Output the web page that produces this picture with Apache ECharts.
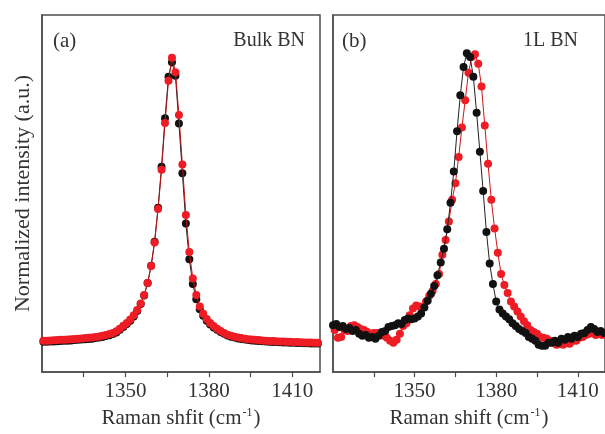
<!DOCTYPE html>
<html>
<head>
<meta charset="utf-8">
<script src="https://cdn.jsdelivr.net/npm/echarts@6/dist/echarts.min.js"></script>
<style>html,body{margin:0;padding:0;background:#fff;}#c{width:605px;height:434px;}</style>
</head>
<body>
<div id="c"></div>
<script>
// ---- data ----
const tickLabels = [1350, 1380, 1410];

// panel (a) Bulk BN, shared Raman shift grid
const xBulk = [1320.5,1321.75,1323,1324.25,1325.5,1326.75,1328,1329.25,1330.5,1331.75,
1333,1334.25,1335.5,1336.75,1338,1339.25,1340.5,1341.75,1343,1344.25,
1345.5,1346.75,1348,1349.25,1350.5,1351.75,1353,1354.25,1355.5,1356.75,
1358,1359.25,1360.5,1361.75,1363,1364.25,1365.5,1366.75,1368,1369.25,
1370.5,1371.75,1373,1374.25,1375.5,1376.75,1378,1379.25,1380.5,1381.75,
1383,1384.25,1385.5,1386.75,1388,1389.25,1390.5,1391.75,1393,1394.25,
1395.5,1396.75,1398,1399.25,1400.5,1401.75,1403,1404.25,1405.5,1406.75,
1408,1409.25,1410.5,1411.75,1413,1414.25,1415.5,1416.75,1418,1419.25];

const bulkRed = [0.0095,0.010,0.011,0.0115,0.012,0.013,0.0135,0.014,0.015,0.016,
0.017,0.018,0.019,0.020,0.021,0.023,0.025,0.027,0.030,0.033,
0.037,0.043,0.052,0.062,0.072,0.084,0.099,0.117,0.140,0.170,
0.212,0.271,0.354,0.471,0.608,0.772,0.920,1.000,0.950,0.800,
0.627,0.450,0.320,0.228,0.170,0.130,0.104,0.086,0.072,0.061,
0.052,0.044,0.037,0.031,0.027,0.024,0.021,0.019,0.017,0.015,
0.014,0.013,0.012,0.011,0.010,0.009,0.0085,0.008,0.0075,0.007,
0.0065,0.006,0.0055,0.005,0.0045,0.004,0.004,0.0035,0.003,0.003];

const bulkBlack = [0.006,0.0065,0.007,0.0075,0.008,0.009,0.0095,0.010,0.011,0.012,
0.013,0.014,0.015,0.016,0.017,0.019,0.021,0.023,0.026,0.029,
0.033,0.039,0.048,0.058,0.068,0.080,0.095,0.114,0.138,0.168,
0.212,0.272,0.356,0.475,0.619,0.789,0.934,0.985,0.937,0.770,
0.596,0.420,0.295,0.208,0.155,0.120,0.097,0.080,0.067,0.056,
0.048,0.040,0.034,0.028,0.024,0.021,0.018,0.016,0.014,0.012,
0.011,0.010,0.009,0.008,0.007,0.006,0.0055,0.005,0.0045,0.004,
0.0035,0.003,0.0025,0.002,0.0015,0.001,0.001,0.0005,0.0,0.0];

// panel (b) 1L BN
const xMonoRed = [1320.6,1321.8,1323.0,1324.2,1325.4,1326.6,1327.8,1329.0,1330.2,1331.4,
1332.6,1333.8,1335.0,1336.2,1337.4,1338.6,1339.8,1341.0,1342.2,1343.4,
1344.6,1345.8,1347.0,1348.2,1349.4,1350.6,1351.8,1353.0,1354.2,1355.4,
1356.6,1357.8,1359.0,1360.2,1361.4,1362.6,1363.8,1365.0,1366.2,1367.4,
1368.6,1369.8,1371.0,1372.2,1373.4,1374.6,1375.8,1377.0,1378.2,1379.4,
1380.6,1381.8,1383.0,1384.2,1385.4,1386.6,1387.8,1389.0,1390.2,1391.4,
1392.6,1393.8,1395.0,1396.2,1397.4,1398.6,1399.8,1401.0,1402.2,1403.4,
1404.6,1405.8,1407.0,1408.2,1409.4,1410.6,1411.8,1413.0,1414.2,1415.4,
1416.6,1417.8,1419.0];

const monoRed = [0.047,0.020,0.023,0.047,0.044,0.061,0.064,0.058,0.051,0.047,
0.040,0.034,0.037,0.037,0.034,0.027,0.020,0.010,0.003,0.013,
0.034,0.061,0.071,0.099,0.123,0.133,0.130,0.126,0.147,0.167,
0.184,0.208,0.243,0.311,0.362,0.427,0.503,0.561,0.653,0.756,
0.852,0.948,1.003,1.013,0.979,0.900,0.763,0.629,0.503,0.403,
0.318,0.243,0.205,0.177,0.147,0.130,0.112,0.095,0.078,0.064,
0.047,0.040,0.034,0.023,0.020,0.017,0.010,0.003,-0.004,-0.001,
-0.004,0.003,-0.001,0.010,0.010,0.020,0.023,0.030,0.034,0.037,
0.030,0.034,0.030];

const xMonoBlack = [1320.0,1321.2,1322.4,1323.6,1324.8,1326.0,1327.2,1328.4,1329.6,1330.8,
1332.0,1333.2,1334.4,1335.6,1336.8,1338.0,1339.2,1340.4,1341.6,1342.8,
1344.0,1345.2,1346.4,1347.6,1348.8,1350.0,1351.2,1352.4,1353.6,1354.8,
1356.0,1357.2,1358.4,1359.6,1360.8,1362.0,1363.2,1364.4,1365.6,1366.8,
1368.0,1369.2,1370.4,1371.6,1372.8,1374.0,1375.2,1376.4,1377.6,1378.8,
1380.0,1381.2,1382.4,1383.6,1384.8,1386.0,1387.2,1388.4,1389.6,1390.8,
1392.0,1393.2,1394.4,1395.6,1396.8,1398.0,1399.2,1400.4,1401.6,1402.8,
1404.0,1405.2,1406.4,1407.6,1408.8,1410.0,1411.2,1412.4,1413.6,1414.8,
1416.0,1417.2,1418.4,1419.6];

const monoBlack = [0.064,0.068,0.058,0.061,0.051,0.054,0.044,0.047,0.034,0.027,
0.030,0.020,0.023,0.017,0.027,0.040,0.044,0.058,0.061,0.064,
0.071,0.068,0.082,0.088,0.085,0.088,0.095,0.105,0.126,0.150,
0.174,0.201,0.239,0.284,0.332,0.400,0.493,0.602,0.743,0.869,
0.968,1.016,1.003,0.934,0.808,0.671,0.534,0.390,0.280,0.208,
0.147,0.119,0.105,0.095,0.085,0.071,0.061,0.051,0.044,0.037,
0.023,0.017,0.010,-0.004,-0.008,-0.008,0.003,0.003,0.010,0.003,
0.017,0.013,0.023,0.017,0.027,0.023,0.034,0.037,0.047,0.058,
0.051,0.040,0.044,0.037];

const xTitleMain = ['Raman shfit (cm', 'Raman shift (cm'];
const xTitleSup = '-1';
const yTitle = 'Normalized intensity (a.u.)';
const panelTags = ['(a)', '(b)'];
const sampleNames = ['Bulk BN', '1L BN'];

// ---- chart ----
function zip(xs, ys) { return xs.map((x, i) => [x, ys[i]]); }
const FONT = '"Liberation Serif", "DejaVu Serif", serif';
const FRAME = '#4d4d4d';
const TEXT = '#333';
const RED = '#ee1c24';
const BLACK = '#111';

function xAxisFor(i) {
  return {
    type: 'value', gridIndex: i, min: 1320, max: 1420, interval: 15,
    axisLine: { show: true, onZero: false, lineStyle: { color: FRAME, width: 1.5 } },
    axisTick: { show: true, inside: false, length: 5, lineStyle: { color: FRAME, width: 1.2 } },
    axisLabel: {
      margin: 9, fontFamily: FONT, fontSize: 21, color: TEXT,
      showMinLabel: false, showMaxLabel: false,
      formatter: v => tickLabels.includes(Math.round(v)) ? String(Math.round(v)) : ''
    },
    splitLine: { show: false },
    name: '{a|' + xTitleMain[i] + '}{s|' + xTitleSup + '}{a|)}',
    nameLocation: 'middle', nameGap: 27,
    nameTextStyle: {
      fontFamily: FONT, fontSize: 21, color: TEXT,
      rich: {
        a: { fontFamily: FONT, fontSize: 21, color: TEXT, lineHeight: 22, verticalAlign: 'bottom' },
        s: { fontFamily: FONT, fontSize: 12, color: TEXT, lineHeight: 22, verticalAlign: 'top', padding: [0, 1, 0, 1] }
      }
    }
  };
}
function yAxisFor(i) {
  return {
    type: 'value', gridIndex: i, min: -0.1, max: 1.15,
    axisLine: { show: true, lineStyle: { color: FRAME, width: 1.5 } },
    axisTick: { show: false }, axisLabel: { show: false }, splitLine: { show: false },
    name: i === 0 ? yTitle : '', nameLocation: 'middle', nameRotate: 90, nameGap: 8,
    nameTextStyle: { fontFamily: FONT, fontSize: 22, color: TEXT }
  };
}
function seriesFor(i, xs, ys, color, lineColor, z) {
  return {
    type: 'line', xAxisIndex: i, yAxisIndex: i, data: zip(xs, ys),
    symbol: 'circle', symbolSize: 8, showAllSymbol: true, z: z,
    itemStyle: { color: color, borderWidth: 0 },
    lineStyle: { color: lineColor, width: 1 },
    clip: true, silent: true
  };
}

const chart = echarts.init(document.getElementById('c'), null, { renderer: 'canvas' });
chart.setOption({
  animation: false,
  backgroundColor: '#fff',
  grid: [
    { left: 42, top: 15, width: 278, height: 365, show: true, borderColor: FRAME, borderWidth: 1.5 },
    { left: 333, top: 15, width: 278, height: 365, show: true, borderColor: FRAME, borderWidth: 1.5 }
  ],
  xAxis: [xAxisFor(0), xAxisFor(1)],
  yAxis: [yAxisFor(0), yAxisFor(1)],
  series: [
    seriesFor(0, xBulk, bulkBlack, BLACK, '#222', 2),
    seriesFor(0, xBulk, bulkRed, RED, '#c01010', 3),
    seriesFor(1, xMonoRed, monoRed, RED, '#d01515', 2),
    seriesFor(1, xMonoBlack, monoBlack, BLACK, '#222', 3)
  ],
  graphic: [
    { type: 'text', left: 53, top: 31, style: { text: panelTags[0], font: '21px ' + FONT, fill: TEXT } },
    { type: 'text', right: 300, top: 31, style: { text: sampleNames[0], font: '20px ' + FONT, fill: TEXT } },
    { type: 'text', left: 342, top: 31, style: { text: panelTags[1], font: '21px ' + FONT, fill: TEXT } },
    { type: 'text', left: 523, top: 31, style: { text: sampleNames[1], font: '20px ' + FONT, fill: TEXT } }
  ]
});
</script>
</body>
</html>
